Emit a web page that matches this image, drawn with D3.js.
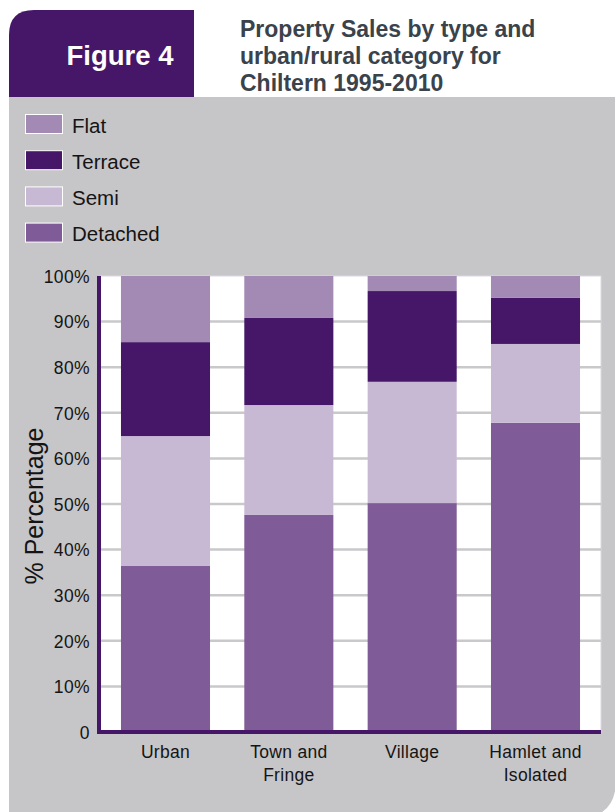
<!DOCTYPE html>
<html>
<head>
<meta charset="utf-8">
<script src="https://cdn.jsdelivr.net/npm/d3@7"></script>
<style>
  body { margin: 0; background: #fff; }
  svg { display: block; font-family: "Liberation Sans", Arial, sans-serif; }
</style>
</head>
<body>
<div id="chart"></div>
<script>
// categories and stacked shares (percent)
const categories = [['Urban'], ['Town and', 'Fringe'], ['Village'], ['Hamlet and', 'Isolated']];
const catKeys = ['Urban', 'Town and Fringe', 'Village', 'Hamlet and Isolated'];
const detached = [36.4, 47.6, 50.2, 67.8];
const semi = [28.5, 24.1, 26.6, 17.3];
const terrace = [20.6, 19.1, 19.9, 10.1];
const flat = [14.5, 9.2, 3.3, 4.8];
const seriesNames = ['Detached', 'Semi', 'Terrace', 'Flat'];
const legendOrder = ['Flat', 'Terrace', 'Semi', 'Detached'];
const yTicks = [0, 10, 20, 30, 40, 50, 60, 70, 80, 90, 100];

const colours = {Flat: '#a28ab4', Terrace: '#461768', Semi: '#c7b8d4', Detached: '#7f5c97'};
const font = '"Liberation Sans", Arial, sans-serif';

const W = 615, H = 812;
const svg = d3.select('#chart').append('svg').attr('width', W).attr('height', H);

// header block + grey panel
svg.append('path')
    .attr('d', `M9,97 L9,35 Q9,10 34,10 L194,10 L194,97 Z`)
    .attr('fill', '#461768');
svg.append('text').attr('x', 120).attr('y', 65).attr('text-anchor', 'middle')
    .attr('fill', '#fff').attr('font-weight', 'bold').attr('font-size', 27.5)
    .text('Figure 4');
['Property Sales by type and', 'urban/rural category for', 'Chiltern 1995-2010'].forEach((t, i) => {
    svg.append('text').attr('x', 240).attr('y', 37 + i * 27)
        .attr('fill', '#3a434b').attr('font-weight', 'bold').attr('font-size', 23)
        .text(t);
});
svg.append('path')
    .attr('d', `M9,97 L616,97 L616,780 Q616,818 578,818 L9,818 Z`)
    .attr('fill', '#c6c5c8');

// legend
const legend = svg.append('g');
legendOrder.forEach((name, i) => {
    let y = 114.5 + i * 36.2;
    legend.append('rect').attr('x', 25.5).attr('y', y).attr('width', 37).attr('height', 19)
        .attr('fill', colours[name]).attr('stroke', '#fff').attr('stroke-width', 1);
    legend.append('text').attr('x', 72).attr('y', y + 18).attr('font-size', 20.5)
        .attr('fill', '#141414').text(name);
});

// plot
const plot = {left: 100, right: 601, top: 276, bottom: 732};
const x = d3.scaleBand().domain(catKeys).range([plot.left, plot.right]).paddingInner(0.278).paddingOuter(0.17);
const y = d3.scaleLinear().domain([0, 100]).range([plot.bottom, plot.top]);

svg.append('rect').attr('x', plot.left).attr('y', plot.top)
    .attr('width', plot.right - plot.left).attr('height', plot.bottom - plot.top)
    .attr('fill', '#fff').attr('stroke', '#ddd6e3').attr('stroke-width', 1);

// gridlines
svg.append('g').selectAll('line').data(yTicks.filter(d => d > 0 && d < 100)).join('line')
    .attr('x1', plot.left).attr('x2', plot.right)
    .attr('y1', d => y(d)).attr('y2', d => y(d))
    .attr('stroke', '#c9c9cb').attr('stroke-width', 2.5);

// stacked bars
const rows = catKeys.map((k, i) => ({cat: k, Detached: detached[i], Semi: semi[i], Terrace: terrace[i], Flat: flat[i]}));
const stacked = d3.stack().keys(seriesNames)(rows);
svg.append('g').selectAll('g').data(stacked).join('g')
    .attr('fill', d => colours[d.key])
    .selectAll('rect').data(d => d).join('rect')
    .attr('x', d => x(d.data.cat))
    .attr('width', x.bandwidth())
    .attr('y', d => y(Math.min(d[1], 100)))
    .attr('height', d => y(d[0]) - y(Math.min(d[1], 100)));

// y axis
const yAxis = svg.append('g').attr('transform', `translate(${plot.left - 1},0)`)
    .call(d3.axisLeft(y).tickValues(yTicks).tickSize(0).tickPadding(9)
        .tickFormat(d => d === 0 ? '0' : d + '%'));
yAxis.select('.domain').attr('stroke', '#461768').attr('stroke-width', 4)
    .attr('d', `M0,${plot.top}V${plot.bottom + 2}`);
yAxis.selectAll('text').attr('font-size', 17.5).attr('fill', '#141414')
    .attr('letter-spacing', 0.4).attr('dy', '0.36em')
    .attr('font-family', font);

// x axis
const xAxis = svg.append('g').attr('transform', `translate(0,${plot.bottom})`)
    .call(d3.axisBottom(x).tickSize(0).tickFormat(''));
xAxis.select('.domain').attr('stroke', '#461768').attr('stroke-width', 4)
    .attr('d', `M${plot.left - 3},0H${plot.right}`);
xAxis.selectAll('.tick').each(function (d, i) {
    let t = d3.select(this).append('text').attr('fill', '#141414').attr('font-size', 17.5)
        .attr('letter-spacing', 0.3)
        .attr('text-anchor', 'middle').attr('font-family', font);
    categories[i].forEach((line, j) => {
        t.append('tspan').attr('x', 0).attr('y', 26 + j * 23).text(line);
    });
});

// y title
svg.append('text').attr('transform', `translate(43,506) rotate(-90)`)
    .attr('text-anchor', 'middle').attr('font-size', 25).attr('fill', '#141414')
    .text('% Percentage');
</script>
</body>
</html>
